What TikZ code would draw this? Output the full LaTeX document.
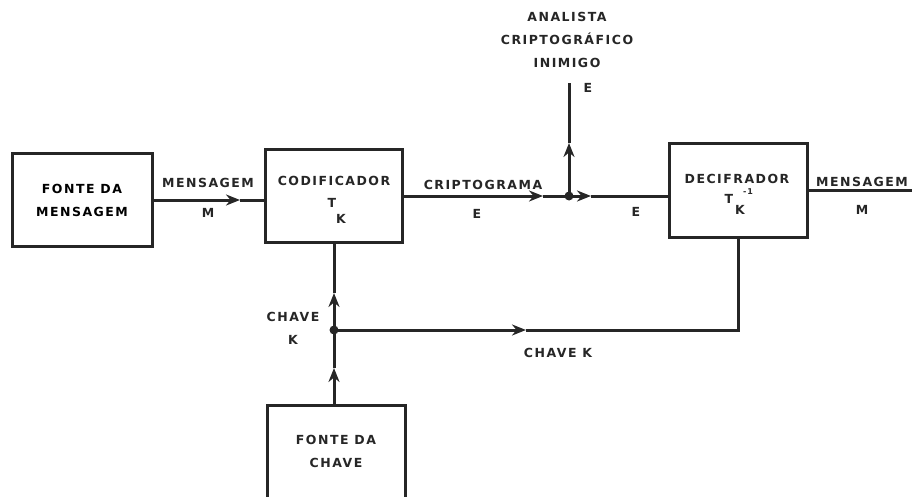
\documentclass[tikz,border=0pt]{standalone}
\usepackage{fontspec}
\newfontfamily\rotulofont[LetterSpace=12]{DejaVu Sans}
\usetikzlibrary{
  arrows.meta,
  positioning
}

\begin{document}
\begin{tikzpicture}[
      x=1pt,y=-1pt,
      bloco/.style={
         rectangle,
         line width=3pt,
         draw=black!85,
         align=center,
         font=\rotulofont\bfseries\fontsize{12.5}{23}\selectfont
      },
      rotulo/.style={
         inner sep=0pt,
         text=black!85,
         font=\rotulofont\bfseries\fontsize{12.5}{23}\selectfont
      },
      pequeno/.style={rotulo,font=\rotulofont\bfseries\fontsize{8}{10}\selectfont},
      linha/.style={line width=3pt,draw=black!85},
      tip/.style={-{Stealth[length=14pt,width=11pt]}},
      ponto/.style={circle,fill=black!85,inner sep=0pt,minimum size=9pt}
    ]
    \useasboundingbox (0,0) rectangle (912,497);

    % blocos
    \node (fmsg) [bloco, minimum width=140pt, minimum height=92pt] at (82,200) {FONTE DA\\MENSAGEM};
    \node (cod)  [bloco, minimum width=137pt, minimum height=92pt] at (333.5,196) {};
    \node (dec)  [bloco, minimum width=138pt, minimum height=93pt] at (738,190.5) {};
    \node (fch)  [bloco, minimum width=138pt, minimum height=100pt] at (336,455) {};
    \node (fchtxt) [rotulo, align=center] at (336,451) {FONTE DA\\CHAVE};

    % textos dentro dos blocos
    \node (codtxt) [rotulo] at (334,181) {CODIFICADOR};
    \node (codT)   [rotulo] at (332,203) {T};
    \node (codK)   [rotulo] at (341,219) {K};
    \node (dectxt) [rotulo] at (737,179) {DECIFRADOR};
    \node (decT)   [rotulo] at (729,199) {T};
    \node (decK)   [rotulo] at (740,210) {K};
    \node (decinv) [pequeno] at (748,192) {-1};

    % pontos e coordenadas
    \node (jcr) [ponto] at (569,196) {};
    \node (jch) [ponto] at (334,330) {};
    \coordinate (s1) at (240,200);
    \coordinate (s2) at (543,196);
    \coordinate (s3) at (591,196);
    \coordinate (s4) at (569,143);
    \coordinate (topo) at (569,83);
    \coordinate (s5) at (334,368);
    \coordinate (s6) at (334,293);
    \coordinate (s7) at (526,330);
    \coordinate (canto) at (738,330);
    \coordinate (saida) at (912,190.5);

    % ligacoes
    \draw [linha,tip] (fmsg.east) -- (s1);
    \draw [linha] (s1) -- (s1 -| cod.west);
    \draw [linha,tip] (cod.east) -- (s2);
    \draw [linha] (s2) -- (jcr.center);
    \draw [linha,tip] (jcr.center) -- (s3);
    \draw [linha] (s3) -- (s3 -| dec.west);
    \draw [linha,tip] (jcr.center) -- (s4);
    \draw [linha] (s4) -- (topo);
    \draw [linha] (dec.east) -- (saida);
    \draw [linha,tip] (fch.north -| jch) -- (s5);
    \draw [linha] (s5) -- (jch.center);
    \draw [linha,tip] (jch.center) -- (s6);
    \draw [linha] (s6) -- (s6 |- cod.south);
    \draw [linha,tip] (jch.center) -- (s7);
    \draw [linha] (s7) -- (canto) -- (dec.south);

    % rotulos das ligacoes
    \node (lmsg)  [rotulo] at (208,183) {MENSAGEM};
    \node (lm)    [rotulo] at (208,213) {M};
    \node (lcrip) [rotulo] at (483,185) {CRIPTOGRAMA};
    \node (le1)   [rotulo] at (477,214) {E};
    \node (le2)   [rotulo] at (636,212) {E};
    \node (le3)   [rotulo] at (588,88) {E};
    \node (lana)  [rotulo, align=center] at (567,40) {ANALISTA\\CRIPTOGRÁFICO\\INIMIGO};
    \node (lsai)  [rotulo] at (862,182) {MENSAGEM};
    \node (lm2)   [rotulo] at (862,210) {M};
    \node (lch1)  [rotulo, align=center] at (293,328) {CHAVE\\K};
    \node (lch2)  [rotulo] at (558,353) {CHAVE K};
\end{tikzpicture}
\end{document}
